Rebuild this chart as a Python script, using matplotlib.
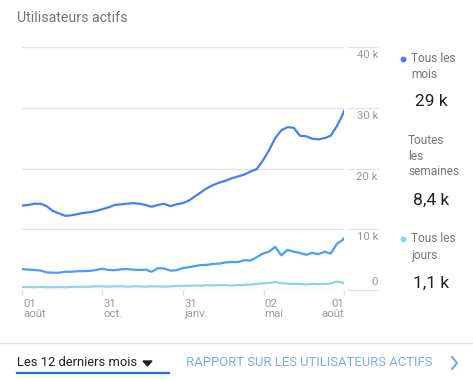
import numpy as np
import matplotlib.pyplot as plt

plt.rcParams['font.family'] = ['Roboto', 'DejaVu Sans']

# days since 01 aout (weekly samples), values in thousands of users
days = list(range(0, 365, 7)) + [365]
mois = [13.9, 14.0, 14.2, 14.2, 13.8, 13.0, 12.6, 12.2, 12.3, 12.5,
        12.7, 12.8, 13.0, 13.3, 13.6, 14.0, 14.1, 14.2, 14.3, 14.2,
        14.0, 13.7, 14.0, 14.2, 13.8, 14.1, 14.3, 14.7, 15.4, 16.1,
        16.8, 17.3, 17.7, 18.0, 18.4, 18.7, 19.0, 19.5, 19.9, 21.3,
        23.0, 25.0, 26.3, 26.8, 26.7, 25.4, 25.3, 24.9, 24.8, 25.0,
        25.4, 27.0, 29.0, 29.5]
semaines = [3.45, 3.35, 3.3, 3.2, 2.9, 2.85, 2.85, 3.0, 3.0, 3.1,
            3.1, 3.15, 3.3, 3.5, 3.3, 3.25, 3.4, 3.45, 3.35, 3.3,
            3.35, 3.0, 3.6, 3.55, 3.2, 3.25, 3.6, 3.75, 3.95, 4.1,
            4.15, 4.3, 4.35, 4.55, 4.6, 4.6, 4.9, 4.85, 5.4, 6.0,
            6.3, 7.1, 5.7, 6.6, 6.3, 6.1, 5.8, 6.1, 5.9, 6.3,
            6.0, 7.6, 8.3, 8.5]
jours = [0.5, 0.5, 0.45, 0.5, 0.45, 0.45, 0.5, 0.45, 0.5, 0.5,
         0.55, 0.55, 0.6, 0.6, 0.55, 0.6, 0.6, 0.55, 0.6, 0.6,
         0.55, 0.6, 0.6, 0.55, 0.6, 0.65, 0.7, 0.7, 0.75, 0.7,
         0.8, 0.75, 0.8, 0.8, 0.75, 0.8, 0.85, 0.9, 1.0, 1.1,
         1.15, 1.3, 1.1, 1.05, 1.0, 1.0, 0.9, 1.0, 0.95, 1.0,
         1.05, 1.4, 1.2, 1.1]

tick_days = [0, 91, 183, 274, 365]
tick_labels = ['01\naoût', '31\noct.', '31\njanv.', '02\nmai', '01\naoût']
y_ticks = [0, 10, 20, 30, 40]
y_labels = ['0', '10 k', '20 k', '30 k', '40 k']

legend_names = [['Tous les', 'mois'], ['Toutes', 'les', 'semaines'], ['Tous les', 'jours']]
legend_values = ['29 k', '8,4 k', '1,1 k']

c_mois = '#4680ee'
c_sem = '#4a9df5'
c_jours = '#8ed3f0'
grid_c = '#e3e3e3'
gray = '#9a9a9a'

W, H = 473, 379
fig = plt.figure(figsize=(W / 100, H / 100), dpi=100)

def fx(px):
    return px / W

def fy(py):
    return 1 - py / H

ax = fig.add_axes([fx(22), fy(290), fx(322), 243 / H])
ax.set_xlim(0, 365)
ax.set_ylim(0, 40)
for s in ax.spines.values():
    s.set_visible(False)
ax.set_xticks([])
ax.set_yticks([])

for yv in y_ticks:
    ax.axhline(yv, color=grid_c, lw=1, zorder=0)

ax.plot(days, jours, color=c_jours, lw=1.6, zorder=3)
ax.plot(days, semaines, color=c_sem, lw=1.6, zorder=3)
ax.plot(days, mois, color=c_mois, lw=1.6, zorder=4)

# x ticks below the axis
for d, lab in zip(tick_days, tick_labels):
    ax.plot([d, d], [0, -0.9], color=grid_c, lw=1, clip_on=False)
    ha = 'right' if d == tick_days[-1] else 'left'
    ax.text(d + (1 if ha == 'left' else 0), -1.4, lab, ha=ha, va='top', fontsize=8.2,
            color=gray, linespacing=1.05)

# right axis: gridline stubs and labels
for yv, lab in zip(y_ticks, y_labels):
    py = 290 - yv * 243 / 40
    fig.add_artist(plt.Line2D([fx(348), fx(378)], [fy(py), fy(py)], color=grid_c, lw=1))
    ty = py - 8 if yv == 0 else py + 8
    fig.text(fx(378), fy(ty), lab, ha='right', va='center', fontsize=8.2, color=gray)

# title
fig.text(fx(17), fy(18), 'Utilisateurs actifs', ha='left', va='center', fontsize=10.2,
         color='#757575')

# legend panel
fig.add_artist(plt.Line2D([fx(403)], [fy(59)], marker='o', ms=3.2, color=c_mois, lw=0))
fig.add_artist(plt.Line2D([fx(403)], [fy(239)], marker='o', ms=3.2, color=c_jours, lw=0))
name_pos = [(411, 59), (408, 140), (411, 239)]
value_pos = [102, 200, 283]
for (nx, ny), names, val, vy in zip(name_pos, legend_names, legend_values, value_pos):
    for k, t in enumerate(names):
        fig.text(fx(nx), fy(ny + 16 * k), t, ha='left', va='center', fontsize=8.6,
                 color='#757575')
    fig.text(fx(431), fy(vy), val, ha='center', va='center', fontsize=12.5, color='#212121')

# footer
fig.add_artist(plt.Line2D([0, 1], [fy(343), fy(343)], color=grid_c, lw=1))
fig.text(fx(17), fy(363), 'Les 12 derniers mois', ha='left', va='center', fontsize=9.3,
         color='#212121')
fig.add_artist(plt.Polygon([[fx(143), fy(361)], [fx(152), fy(361)], [fx(147.5), fy(366)]],
                           closed=True, color='#212121'))
fig.add_artist(plt.Line2D([fx(17), fx(169)], [fy(373), fy(373)], color='#1a73e8', lw=1.6))
fig.text(fx(186), fy(363), 'RAPPORT SUR LES UTILISATEURS ACTIFS', ha='left', va='center',
         fontsize=9.4, color='#7baaf0')
fig.add_artist(plt.Line2D([fx(452), fx(457), fx(452)], [fy(357), fy(363), fy(369)],
                          color='#7baaf0', lw=1.5))

fig.savefig('out.png', dpi=100)
